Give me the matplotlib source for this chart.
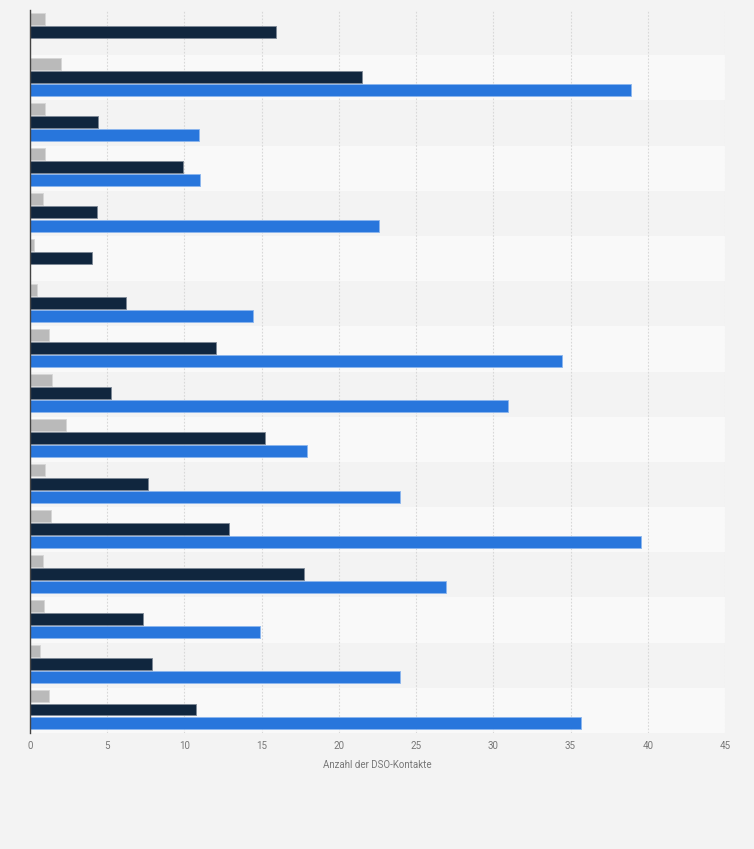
import numpy as np
import matplotlib
matplotlib.use('Agg')
import matplotlib.pyplot as plt

# ======================
# DATA
# ======================
groups = list(range(16))
serie_grau = [1.0, 2.0, 1.0, 1.0, 0.85, 0.27, 0.45, 1.23, 1.42, 2.35, 1.0, 1.36, 0.84, 0.9, 0.65, 1.23]
serie_dunkel = [15.95, 21.5, 4.4, 9.93, 4.36, 4.04, 6.24, 12.07, 5.25, 15.24, 7.66, 12.9, 17.77, 7.34, 7.92, 10.77]
serie_blau = [0, 38.9, 10.97, 11.0, 22.6, 0, 14.47, 34.43, 30.94, 17.96, 23.94, 39.55, 26.92, 14.92, 23.94, 35.69]
x_ticks = [0, 5, 10, 15, 20, 25, 30, 35, 40, 45]

bg = '#f3f3f3'
plt.rcParams['font.family'] = ['Roboto', 'DejaVu Sans']

fig = plt.figure(figsize=(7.54, 8.49), dpi=100, facecolor=bg)
ax = fig.add_axes([30 / 754, 1 - 733 / 849, 695 / 754, 723 / 849])
ax.set_facecolor(bg)

y = np.array(groups)
h = 0.265
step = 0.29

# ======================
# BANDS
# ======================
for i in groups:
    ax.axhspan(i - 0.5, i + 0.5, color='#f3f3f3' if i % 2 == 0 else '#f9f9f9', zorder=0, lw=0)

# ======================
# BARS
# ======================
ax.barh(y - step - 0.02, serie_grau, height=h, color='#bababa', edgecolor='#d6d6d6', linewidth=0.6, zorder=3)
ax.barh(y - 0.02, serie_dunkel, height=h, color='#10263e', edgecolor='#7d8896', linewidth=0.6, zorder=3)
ax.barh(y + step - 0.02, serie_blau, height=h, color='#2876dc', edgecolor='#8cb6ee', linewidth=0.6, zorder=3)

ax.set_xlim(0, 45)
ax.set_ylim(15.5, -0.5)
ax.set_xticks(x_ticks)
ax.set_xticklabels([str(t) for t in x_ticks])
ax.set_yticks([])
ax.tick_params(axis='x', length=0, labelsize=7, colors='#777777', pad=6)
ax.grid(axis='x', color='#d8d8d8', linestyle=(0, (1.5, 1.5)), linewidth=0.8, zorder=1)

for s in ['top', 'right', 'bottom']:
    ax.spines[s].set_visible(False)
ax.spines['left'].set_color('#444444')
ax.spines['left'].set_linewidth(1.0)
ax.spines['left'].set_zorder(4)

ax.set_xlabel('Anzahl der DSO-Kontakte', fontsize=7, color='#777777', labelpad=6)

fig.savefig('out.png', dpi=100, facecolor=bg)
